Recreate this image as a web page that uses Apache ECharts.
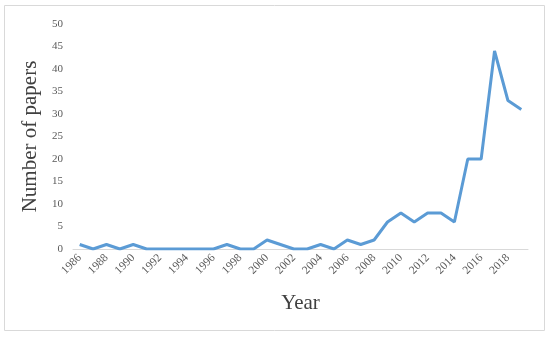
<!DOCTYPE html>
<html><head><meta charset="utf-8">
<script src="https://cdn.jsdelivr.net/npm/echarts@6/dist/echarts.min.js"></script>
<style>html,body{margin:0;padding:0;background:#fff}#c{width:550px;height:337px}</style>
</head><body><div id="c"></div>
<script>
const years = ['1986','1987','1988','1989','1990','1991','1992','1993','1994','1995','1996','1997','1998','1999','2000','2001','2002','2003','2004','2005','2006','2007','2008','2009','2010','2011','2012','2013','2014','2015','2016','2017','2018','2019'];
const papers = [1,0,1,0,1,0,0,0,0,0,0,1,0,0,2,1,0,0,1,0,2,1,2,6,8,6,8,8,6,20,20,44,33,31];
const yTicks = {min:0, max:50, interval:5};

const chart = echarts.init(document.getElementById('c'));
chart.setOption({
  animation:false,
  graphic:[{type:'rect',shape:{x:4.5,y:5.5,width:540,height:325},style:{fill:'none',stroke:'#d9d9d9',lineWidth:1}}],
  grid:{left:73,right:22,top:24,bottom:88},
  xAxis:{type:'category',data:years,boundaryGap:true,
    name:'Year',nameLocation:'middle',nameGap:44,
    nameTextStyle:{fontFamily:'Liberation Serif',fontSize:21,color:'#404040'},
    axisLine:{lineStyle:{color:'#d9d9d9'}},axisTick:{show:false},
    axisLabel:{interval:1,rotate:45,fontFamily:'Liberation Serif',fontSize:11.5,color:'#595959',margin:7}},
  yAxis:{type:'value',min:yTicks.min,max:yTicks.max,interval:yTicks.interval,
    name:'Number of papers',nameLocation:'middle',nameGap:19,
    nameTextStyle:{fontFamily:'Liberation Serif',fontSize:21,color:'#404040'},
    splitLine:{show:false},axisLine:{show:false},axisTick:{show:false},
    axisLabel:{fontFamily:'Liberation Serif',fontSize:11,color:'#595959',margin:10}},
  series:[{type:'line',data:papers,symbol:'none',lineStyle:{color:'#5b9bd5',width:3}}]
});
</script></body></html>
